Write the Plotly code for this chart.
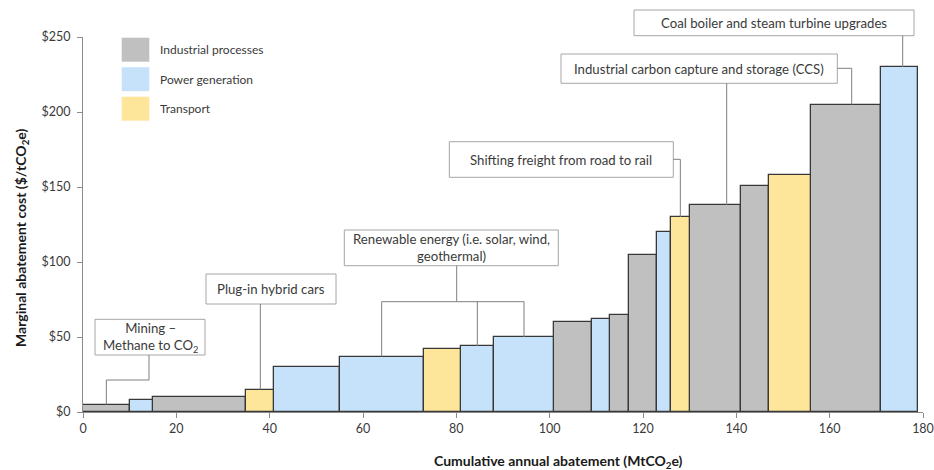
import numpy as np
import plotly.graph_objects as go

# ---------------- data ----------------
widths = [10, 5, 20, 6, 14, 18, 8, 7, 13, 8, 4, 4, 6, 3, 4, 11, 6, 9, 15, 8]
costs = [5, 8, 10, 15, 30, 37, 42, 44, 50, 60, 62, 65, 105, 120, 130, 138, 151, 158, 205, 230]
sectors = ["Industrial processes", "Power generation", "Industrial processes", "Transport",
           "Power generation", "Power generation", "Transport", "Power generation",
           "Power generation", "Industrial processes", "Power generation", "Industrial processes",
           "Industrial processes", "Power generation", "Transport", "Industrial processes",
           "Industrial processes", "Transport", "Industrial processes", "Power generation"]
legend_names = ["Industrial processes", "Power generation", "Transport"]
x_ticks = [0, 20, 40, 60, 80, 100, 120, 140, 160, 180]
y_ticks = [0, 50, 100, 150, 200, 250]
y_tick_labels = ["$0", "$50", "$100", "$150", "$200", "$250"]

colors = {"Industrial processes": "#c0c0c0",
          "Power generation": "#c6e2fa",
          "Transport": "#fde59a"}

FONT = "Lato"
TXT = "#3a3a3a"

lefts = np.concatenate([[0], np.cumsum(widths)[:-1]])
centers = lefts + np.array(widths) / 2.0

# ---------------- layout geometry (pixels) ----------------
W, H = 934, 470
ML, MR, MT, MB = 83, 11, 37, 58
PW, PH = W - ML - MR, H - MT - MB
XMAX, YMAX = 180, 250


def px(xpix):
    return (xpix - ML) / PW


def py(ypix):
    return (H - MB - ypix) / PH


def dx(v):
    return v / XMAX


def dy(v):
    return v / YMAX


fig = go.Figure()
for name in legend_names:
    idx = [i for i, s in enumerate(sectors) if s == name]
    fig.add_trace(go.Bar(
        x=[centers[i] for i in idx], y=[costs[i] for i in idx],
        width=[widths[i] for i in idx], base=0, name=name,
        marker=dict(color=colors[name], line=dict(color="#383838", width=1.3)),
        showlegend=False, hoverinfo="x+y"))

shapes = []
annotations = []

# ---------- custom legend ----------
for k, name in enumerate(legend_names):
    top = 37.7 + k * 29.5
    shapes.append(dict(type="rect", xref="paper", yref="paper",
                       x0=px(121.7), x1=px(149.3), y0=py(top + 24), y1=py(top),
                       fillcolor=colors[name], line=dict(width=0)))
    annotations.append(dict(xref="paper", yref="paper", x=px(158), y=py(top + 12),
                            text=name, showarrow=False, xanchor="left", yanchor="middle",
                            font=dict(family=FONT, size=12, color=TXT)))

BOX_LINE = dict(color="#a6a6a6", width=1)
CONN = dict(color="#7f7f7f", width=1)


def box(x0p, x1p, y0p, y1p, text):
    shapes.append(dict(type="rect", xref="paper", yref="paper",
                       x0=px(x0p), x1=px(x1p), y0=py(y1p), y1=py(y0p),
                       fillcolor="white", line=BOX_LINE, layer="above"))
    annotations.append(dict(xref="paper", yref="paper", x=px((x0p + x1p) / 2),
                            y=py((y0p + y1p) / 2), text=text, showarrow=False,
                            xanchor="center", yanchor="middle", align="center",
                            font=dict(family=FONT, size=13.2, color=TXT)))


def path(points):
    d = "M " + " L ".join(f"{a:.5f},{b:.5f}" for a, b in points)
    shapes.append(dict(type="path", xref="paper", yref="paper", path=d,
                       line=CONN, layer="above"))


def bar_top(i):
    return dx(centers[i]), dy(costs[i])


# Mining - Methane to CO2 (bar 0)
box(95, 205, 319.3, 355, "Mining –<br>Methane to CO<sub>2</sub>")
bx, by = bar_top(0)
path([(px(149), py(355)), (px(149), py(380)), (bx, py(380)), (bx, by)])

# Plug-in hybrid cars (bar 3)
box(206, 336, 274, 304, "Plug-in hybrid cars")
bx, by = bar_top(3)
path([(bx, py(304)), (bx, by)])

# Renewable energy (bars 5, 7, 8)
box(344.3, 558.3, 230, 265.7, "Renewable energy (i.e. solar, wind,<br>geothermal)")
b5, b7, b8 = bar_top(5), bar_top(7), bar_top(8)
path([(px(456.7), py(265.7)), (px(456.7), py(301.7))])
path([(b5[0], b5[1]), (b5[0], py(301.7)), (b8[0], py(301.7)), (b8[0], b8[1])])
path([(b7[0], py(301.7)), (b7[0], b7[1])])

# Shifting freight (bar 14)
box(449.3, 673.3, 141.7, 177.3, "Shifting freight from road to rail")
bx, by = bar_top(14)
path([(px(673.3), py(159.3)), (bx, py(159.3)), (bx, by)])

# Industrial CCS (bars 15, 18)
box(561, 837.3, 54, 83.3, "Industrial carbon capture and storage (CCS)")
path([(px(726.7), py(83.3)), (px(726.7), dy(costs[15]))])
bx, by = bar_top(18)
path([(px(837.3), py(68.3)), (px(851.7), py(68.3)), (px(851.7), by)])

# Coal boiler (bar 19)
box(634, 914, 10, 35.7, "Coal boiler and steam turbine upgrades")
bx, by = bar_top(19)
path([(px(902.7), py(35.7)), (px(902.7), by)])

# Axis titles
annotations.append(dict(xref="paper", yref="paper", x=px(558), y=py(461),
                        text="<b>Cumulative annual abatement (MtCO<sub>2</sub>e)</b>",
                        showarrow=False, xanchor="center", yanchor="middle",
                        font=dict(family=FONT, size=14, color="#1a1a1a")))
annotations.append(dict(xref="paper", yref="paper", x=px(21), y=py(238),
                        text="<b>Marginal abatement cost ($/tCO<sub>2</sub>e)</b>",
                        showarrow=False, xanchor="center", yanchor="middle", textangle=-90,
                        font=dict(family=FONT, size=14, color="#1a1a1a")))

fig.update_layout(
    width=W, height=H,
    margin=dict(l=ML, r=MR, t=MT, b=MB, pad=0, autoexpand=False),
    paper_bgcolor="white", plot_bgcolor="white",
    bargap=0, showlegend=False,
    font=dict(family=FONT, size=12, color=TXT),
    shapes=shapes, annotations=annotations,
    xaxis=dict(range=[0, XMAX], tickvals=x_ticks, showgrid=False, zeroline=False,
               automargin=False,
               showline=True, linecolor="#8a8a8a", linewidth=1,
               ticks="outside", ticklen=5, tickcolor="#8a8a8a",
               tickfont=dict(family=FONT, size=12.5, color=TXT)),
    yaxis=dict(range=[0, YMAX], tickvals=y_ticks, ticktext=y_tick_labels,
               showgrid=False, zeroline=False, automargin=False,
               showline=True, linecolor="#8a8a8a", linewidth=1,
               ticks="outside", ticklen=5, tickcolor="#8a8a8a",
               ticklabelstandoff=4,
               tickfont=dict(family=FONT, size=12.5, color=TXT)),
)

fig.write_html("out.html",
               config={"displayModeBar": False},
               post_script="document.body.style.margin='0';"
                           "document.body.style.overflow='hidden';")
